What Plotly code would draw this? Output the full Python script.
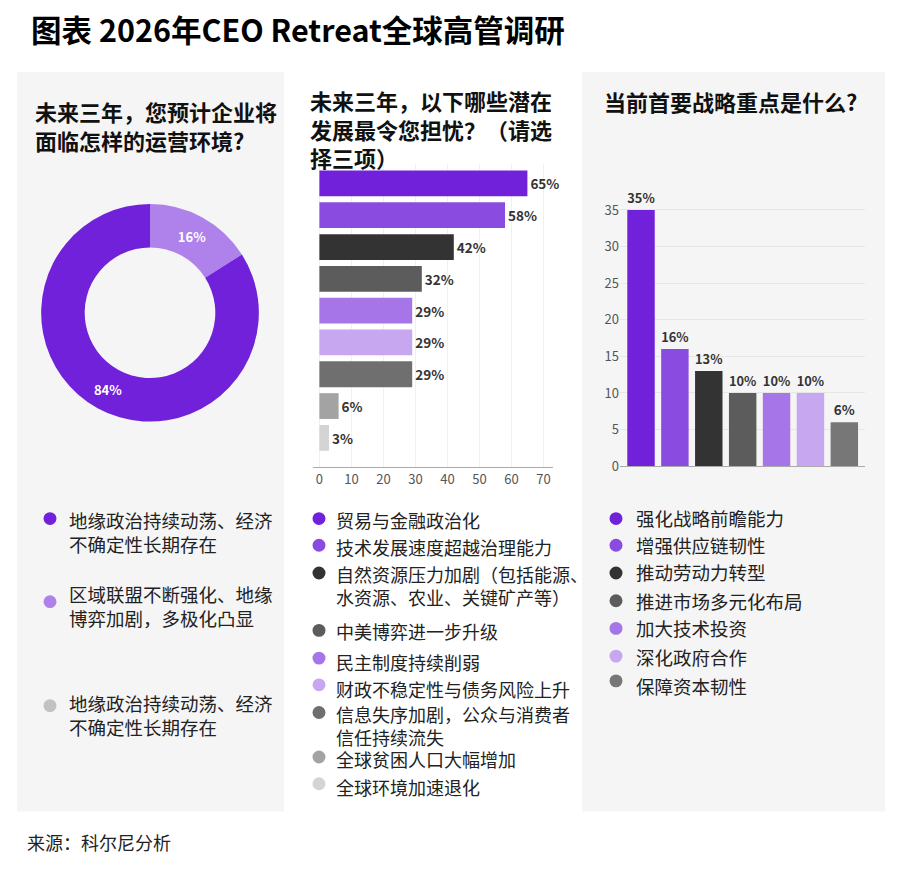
import plotly.graph_objects as go

W, H = 900, 872
PAD = 8  # page body margin of the browser
FW, FH = W - 2 * PAD, H - 2 * PAD

# ---------------- data ----------------
title = "图表 2026年CEO Retreat全球高管调研"
source = "来源：科尔尼分析"

q1 = "未来三年，您预计企业将\n面临怎样的运营环境?"
env_labels = ["地缘政治持续动荡、经济\n不确定性长期存在",
              "区域联盟不断强化、地缘\n博弈加剧，多极化凸显",
              "地缘政治持续动荡、经济\n不确定性长期存在"]
env_values = [84, 16, 0]
env_colors = ["#7121d9", "#ae82ea", "#c2c2c2"]

q2 = "未来三年，以下哪些潜在\n发展最令您担忧？（请选\n择三项）"
concern_labels = ["贸易与金融政治化",
                  "技术发展速度超越治理能力",
                  "自然资源压力加剧（包括能源、\n水资源、农业、关键矿产等）",
                  "中美博弈进一步升级",
                  "民主制度持续削弱",
                  "财政不稳定性与债务风险上升",
                  "信息失序加剧，公众与消费者\n信任持续流失",
                  "全球贫困人口大幅增加",
                  "全球环境加速退化"]
concern_values = [65, 58, 42, 32, 29, 29, 29, 6, 3]
concern_colors = ["#7121d9", "#8a4be0", "#333333", "#5c5c5c", "#a676e8",
                  "#c6a7f0", "#6f6f6f", "#a3a3a3", "#d4d4d4"]
concern_ticks = [0, 10, 20, 30, 40, 50, 60, 70]

q3 = "当前首要战略重点是什么?"
priority_labels = ["强化战略前瞻能力", "增强供应链韧性", "推动劳动力转型",
                   "推进市场多元化布局", "加大技术投资", "深化政府合作", "保障资本韧性"]
priority_values = [35, 16, 13, 10, 10, 10, 6]
priority_colors = ["#7121d9", "#8a4be0", "#333333", "#5c5c5c", "#a676e8",
                   "#c6a7f0", "#777777"]
priority_ticks = [0, 5, 10, 15, 20, 25, 30, 35]

# ---------------- helpers ----------------
FONT = "Noto Sans CJK SC"


def fx(x):
    return (x - PAD) / FW


def fy(y):
    return 1 - (y - PAD) / FH


annotations = []
shapes = []


def text(x, y, s, size, color="#222", bold=False, yanchor="middle"):
    annotations.append(dict(
        x=fx(x), y=fy(y), xref="paper", yref="paper",
        text=f"<b>{s}</b>" if bold else s, showarrow=False,
        xanchor="left", yanchor=yanchor, align="left",
        font=dict(family=FONT, size=size, color=color)))


def multiline(x, y, s, size, color="#222", bold=False):
    """y = centre of first line; lines joined with <br>"""
    lines = s.split("\n")
    body = "<br>".join(f"<b>{l}</b>" if bold else l for l in lines)
    annotations.append(dict(
        x=fx(x), y=fy(y - size * 0.65), xref="paper", yref="paper",
        text=body, showarrow=False, xanchor="left", yanchor="top",
        align="left", font=dict(family=FONT, size=size, color=color)))


def dot(x, y, color, r=6.5):
    shapes.append(dict(type="circle", xref="paper", yref="paper",
                       x0=fx(x - r), x1=fx(x + r), y0=fy(y + r), y1=fy(y - r),
                       fillcolor=color, line=dict(width=0), layer="above"))


# panels
for (x0, x1) in [(17, 284), (582, 885)]:
    shapes.append(dict(type="rect", xref="paper", yref="paper",
                       x0=fx(x0), x1=fx(x1), y0=fy(820), y1=fy(73),
                       fillcolor="#f5f5f5", line=dict(width=0), layer="below"))

fig = go.Figure()

# ---------- donut (16% slice drawn first, clockwise from 12 o'clock) ----------
fig.add_trace(go.Pie(
    labels=env_labels[1::-1], values=env_values[1::-1],
    marker=dict(colors=env_colors[1::-1], line=dict(width=0)),
    hole=0.6, sort=False, direction="clockwise", rotation=0,
    texttemplate="<b>%{value}%</b>", textposition="inside",
    insidetextorientation="horizontal",
    textfont=dict(family=FONT, size=13, color="white"),
    domain=dict(x=[fx(40), fx(260)], y=[fy(426), fy(206)]),
    showlegend=False, hoverinfo="label+value"))

# ---------- horizontal bars ----------
fig.add_trace(go.Bar(
    x=concern_values, y=concern_labels, orientation="h",
    marker=dict(color=concern_colors, line=dict(width=0)),
    texttemplate="<b>%{x}%</b>", textposition="outside",
    textfont=dict(family=FONT, size=13.5, color="#333"),
    cliponaxis=False, showlegend=False, xaxis="x", yaxis="y"))

# ---------- vertical bars ----------
fig.add_trace(go.Bar(
    x=priority_labels, y=priority_values,
    marker=dict(color=priority_colors, line=dict(width=0)),
    texttemplate="<b>%{y}%</b>", textposition="outside",
    textfont=dict(family=FONT, size=13.5, color="#333"),
    cliponaxis=False, showlegend=False, xaxis="x2", yaxis="y2"))

# ---------- texts ----------
text(29, 29, title, 30.5, "#000", bold=True)
multiline(33, 108, q1, 22, "#111", bold=True)
multiline(308, 97, q2, 22, "#111", bold=True)
text(602, 102, q3, 22, "#111", bold=True)
text(25, 851, source, 18, "#222")

# legends
left_dot_y = [524, 608, 713]
left_txt_y = [522, 597, 707]
for lab, c, dy, ty in zip(env_labels, env_colors, left_dot_y, left_txt_y):
    dot(50, dy, c)
    multiline(67, ty, lab, 18.5, "#222")

mid_dot_y = [524, 551, 579, 637, 665, 692, 720, 765, 792]
mid_txt_y = [522, 549, 577, 634, 665, 693, 718, 764, 792]
for lab, c, dy, ty in zip(concern_labels, concern_colors, mid_dot_y, mid_txt_y):
    dot(319, dy, c)
    multiline(334, ty, lab, 18, "#222")

right_dot_y = [524, 551, 579, 607, 635, 663, 688]
right_txt_y = [523, 551, 578, 607, 635, 664, 693]
for lab, c, dy, ty in zip(priority_labels, priority_colors, right_dot_y, right_txt_y):
    dot(616, dy, c)
    text(634, ty, lab, 18.5, "#222")

fig.update_layout(
    width=FW, height=FH, margin=dict(l=0, r=0, t=0, b=0),
    paper_bgcolor="white", plot_bgcolor="rgba(0,0,0,0)",
    font=dict(family=FONT),
    bargap=0.19,
    xaxis=dict(domain=[fx(313), fx(553)], range=[-2, 73],
               tickvals=concern_ticks, showgrid=True, gridcolor="#f0f0f0",
               zeroline=False, showline=True, linecolor="#aaaaaa",
               ticks="", tickfont=dict(family=FONT, size=13, color="#555"),
               fixedrange=True),
    yaxis=dict(domain=[fy(472), fy(166)], range=[8.92, -0.6],
               type="category", showticklabels=False, showgrid=False,
               zeroline=False, showline=False, fixedrange=True),
    xaxis2=dict(domain=[fx(620), fx(865)], range=[-0.62, 6.61],
                type="category", showticklabels=False, showgrid=False,
                zeroline=False, showline=True, linecolor="#aaaaaa",
                anchor="y2", fixedrange=True),
    yaxis2=dict(domain=[fy(471), fy(201)], range=[0, 36.5],
                tickvals=priority_ticks, showgrid=True, gridcolor="#e6e6e6",
                zeroline=False, showline=False, ticks="",
                tickfont=dict(family=FONT, size=13, color="#555"),
                anchor="x2", fixedrange=True),
    annotations=annotations, shapes=shapes,
)

fig.write_html("out.html")
